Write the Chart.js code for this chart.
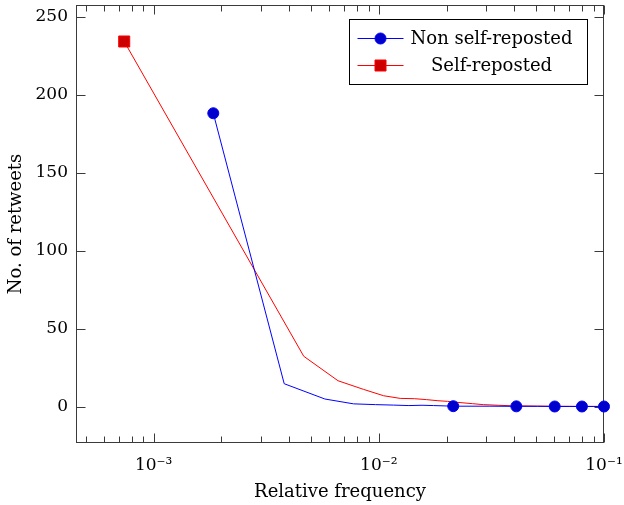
<!DOCTYPE html>
<html>
<head>
<meta charset="utf-8">
<script src="https://cdn.jsdelivr.net/npm/chart.js@4.4.1/dist/chart.umd.min.js"></script>
<style>
  html, body { margin: 0; padding: 0; background: #fff; }
  #wrap { width: 624px; height: 505px; }
</style>
</head>
<body>
<div id="wrap"><canvas id="retweetChart" width="624" height="505"></canvas></div>
<script>
// relative frequency (x) vs. number of retweets (y)
const nonSelfFreq = [0.00184, 0.0038, 0.00576, 0.00772, 0.00968, 0.01164, 0.0136, 0.01556, 0.01752, 0.01948,
                     0.0214, 0.0311, 0.0408, 0.0506, 0.0604, 0.0701, 0.0798, 0.0899, 0.1];
const nonSelfRetweets = [188, 14.6, 4.8, 1.7, 1.2, 0.9, 0.6, 0.8, 0.6, 0.4,
                         0.2, 0.2, 0.1, 0.1, 0, 0, 0, 0, 0];

const selfFreq = [0.00074, 0.00464, 0.00659, 0.00854, 0.0105, 0.01244, 0.0144, 0.0163, 0.0183, 0.0202,
                  0.0222, 0.0261, 0.0291, 0.0339, 0.0384, 0.05, 0.06, 0.08, 0.1];
const selfRetweets = [234, 32.2, 16.5, 11.0, 6.9, 5.2, 5.0, 4.4, 3.7, 3.3,
                      2.7, 1.8, 1.2, 0.8, 0.5, 0.3, 0.2, 0.1, 0.1];

// samples that carry a marker (the rest are plain line vertices)
const nonSelfMarks = [0, 10, 12, 14, 16, 18];
const selfMarks = [0];

const seriesNames = ["Non self-reposted", "Self-reposted"];
const xTicks = [1e-3, 1e-2, 1e-1];
const xTickLabels = ["10⁻³", "10⁻²", "10⁻¹"];
const yTicks = [0, 50, 100, 150, 200, 250];

const FONT = "'DejaVu Serif', serif";
const AXIS_COLOR = "#3a3a3a";

Chart.defaults.font.family = FONT;
Chart.defaults.font.size = 17;
Chart.defaults.color = "#000";

const toPoints = (xs, ys) => xs.map((x, i) => ({ x: x, y: ys[i] }));
const markRadius = (xs, marks, r) => xs.map((_, i) => marks.includes(i) ? r : 0);

// box frame plus inward tick marks on all four sides, like pgfplots
const framePlugin = {
  id: "frame",
  beforeDatasetsDraw(chart) {
    const ctx = chart.ctx;
    const a = chart.chartArea;
    const xs = chart.scales.x;
    const ys = chart.scales.y;
    const L = Math.round(a.left) + 0.5, R = Math.round(a.right) - 0.5;
    const T = Math.round(a.top) + 0.5, B = Math.round(a.bottom) - 0.5;
    ctx.save();
    ctx.strokeStyle = AXIS_COLOR;
    ctx.lineWidth = 1;

    ctx.beginPath();
    yTicks.forEach(v => {
      const y = Math.round(ys.getPixelForValue(v)) + 0.5;
      ctx.moveTo(L, y); ctx.lineTo(L + 9, y);
      ctx.moveTo(R, y); ctx.lineTo(R - 9, y);
    });
    xTicks.forEach(v => {
      const x = Math.round(xs.getPixelForValue(v)) + 0.5;
      ctx.moveTo(x, B); ctx.lineTo(x, B - 9);
      ctx.moveTo(x, T); ctx.lineTo(x, T + 9);
    });
    [-4, -3, -2].forEach(d => {
      for (let m = 2; m <= 9; m++) {
        const v = m * Math.pow(10, d);
        if (v < xs.min || v > xs.max) continue;
        const x = Math.round(xs.getPixelForValue(v)) + 0.5;
        ctx.moveTo(x, B); ctx.lineTo(x, B - 6);
        ctx.moveTo(x, T); ctx.lineTo(x, T + 6);
      }
    });
    ctx.stroke();

    ctx.strokeRect(L, T, R - L, B - T);
    ctx.restore();
  },
  afterDraw(chart) {
    // legend box in the upper right corner of the plot
    const ctx = chart.ctx;
    const a = chart.chartArea;
    const w = 238, h = 65;
    const x0 = Math.round(a.right - 17 - w) + 0.5;
    const y0 = Math.round(a.top + 14) + 0.5;
    ctx.save();
    ctx.fillStyle = "#fff";
    ctx.fillRect(x0, y0, w, h);
    ctx.strokeStyle = "#000";
    ctx.lineWidth = 1;
    ctx.strokeRect(x0, y0, w, h);

    chart.data.datasets.forEach((ds, i) => {
      const cy = y0 + 19 + i * 27;
      ctx.strokeStyle = ds.borderColor;
      ctx.beginPath();
      ctx.moveTo(x0 + 8, cy); ctx.lineTo(x0 + 54, cy);
      ctx.stroke();
      ctx.fillStyle = ds.pointBackgroundColor;
      ctx.strokeStyle = ds.pointBorderColor;
      ctx.beginPath();
      if (ds.pointStyle === "rect") {
        ctx.rect(x0 + 31 - 5.5, cy - 5.5, 11, 11);
      } else {
        ctx.arc(x0 + 31, cy, 5.5, 0, Math.PI * 2);
      }
      ctx.fill();
      ctx.stroke();

      ctx.fillStyle = "#000";
      ctx.font = "18px " + FONT;
      ctx.textAlign = "center";
      ctx.textBaseline = "middle";
      ctx.fillText(ds.label, x0 + 142, cy + 1);
    });
    ctx.restore();
  }
};

new Chart(document.getElementById("retweetChart"), {
  type: "scatter",
  data: {
    datasets: [
      {
        label: seriesNames[0],
        data: toPoints(nonSelfFreq, nonSelfRetweets),
        showLine: true,
        borderColor: "#0000ff",
        borderWidth: 1,
        pointStyle: "circle",
        pointRadius: markRadius(nonSelfFreq, nonSelfMarks, 5.5),
        pointBackgroundColor: "#0000cc",
        pointBorderColor: "#0000ff",
        pointBorderWidth: 1,
        clip: false
      },
      {
        label: seriesNames[1],
        data: toPoints(selfFreq, selfRetweets),
        showLine: true,
        borderColor: "#ff0000",
        borderWidth: 1,
        pointStyle: "rect",
        pointRadius: markRadius(selfFreq, selfMarks, 7.8),
        pointBackgroundColor: "#cc0000",
        pointBorderColor: "#ff0000",
        pointBorderWidth: 1,
        clip: false
      }
    ]
  },
  options: {
    responsive: false,
    animation: false,
    devicePixelRatio: 1,
    layout: { autoPadding: false, padding: { top: 5, right: 20, left: 0, bottom: 0 } },
    plugins: {
      legend: { display: false },
      tooltip: { enabled: false }
    },
    scales: {
      x: {
        type: "logarithmic",
        min: 4.52e-4,
        max: 0.1,
        afterBuildTicks: s => { s.ticks = xTicks.map(v => ({ value: v })); },
        afterFit: s => { s.height = 62; s.paddingLeft = 0; s.paddingRight = 0; },
        ticks: {
          autoSkip: false,
          maxRotation: 0,
          padding: 12,
          callback: v => xTickLabels[xTicks.indexOf(v)]
        },
        grid: { display: false, drawTicks: false },
        border: { display: false },
        title: { display: true, text: "Relative frequency", font: { size: 18 }, padding: { top: 0, bottom: 2 } }
      },
      y: {
        type: "linear",
        min: -23.4,
        max: 257.4,
        afterBuildTicks: s => { s.ticks = yTicks.map(v => ({ value: v })); },
        afterFit: s => { s.width = 76; s.paddingTop = 0; s.paddingBottom = 0; },
        ticks: { padding: 8 },
        grid: { display: false, drawTicks: false },
        border: { display: false },
        title: { display: true, text: "No. of retweets", font: { size: 18 }, padding: { top: 6, bottom: 0 } }
      }
    }
  },
  plugins: [framePlugin]
});
</script>
</body>
</html>
